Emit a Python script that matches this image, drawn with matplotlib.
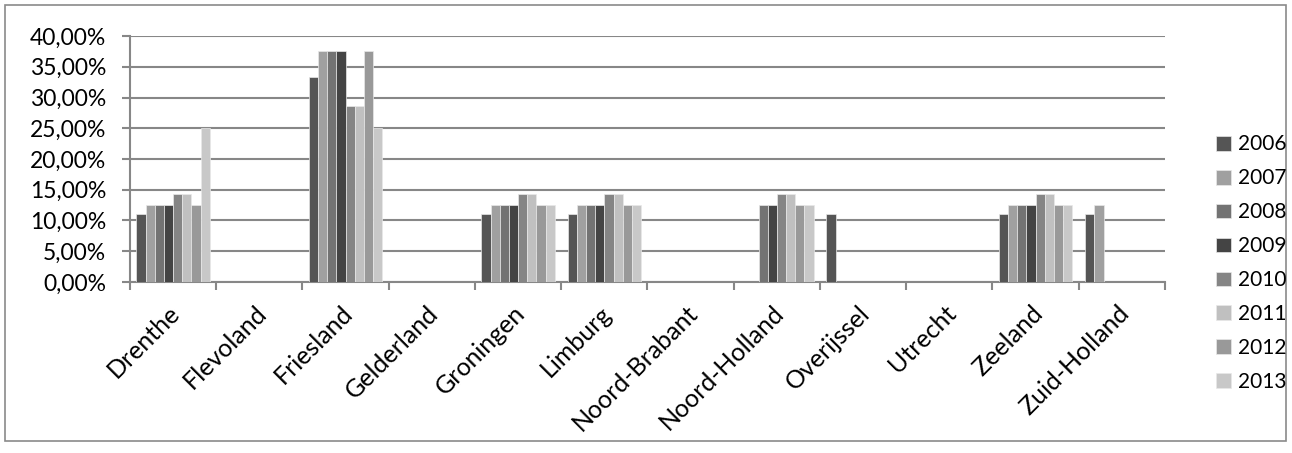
import numpy as np
import matplotlib.pyplot as plt
from matplotlib.patches import Rectangle
from matplotlib.ticker import FuncFormatter
from matplotlib.transforms import ScaledTranslation

provinces = ['Drenthe', 'Flevoland', 'Friesland', 'Gelderland', 'Groningen', 'Limburg',
             'Noord-Brabant', 'Noord-Holland', 'Overijssel', 'Utrecht', 'Zeeland', 'Zuid-Holland']
years = ['2006', '2007', '2008', '2009', '2010', '2011', '2012', '2013']

# percentages per year, one value per province
v2006 = [11.11, 0, 33.33, 0, 11.11, 11.11, 0, 0, 11.11, 0, 11.11, 11.11]
v2007 = [12.5, 0, 37.5, 0, 12.5, 12.5, 0, 0, 0, 0, 12.5, 12.5]
v2008 = [12.5, 0, 37.5, 0, 12.5, 12.5, 0, 12.5, 0, 0, 12.5, 0]
v2009 = [12.5, 0, 37.5, 0, 12.5, 12.5, 0, 12.5, 0, 0, 12.5, 0]
v2010 = [14.29, 0, 28.57, 0, 14.29, 14.29, 0, 14.29, 0, 0, 14.29, 0]
v2011 = [14.29, 0, 28.57, 0, 14.29, 14.29, 0, 14.29, 0, 0, 14.29, 0]
v2012 = [12.5, 0, 37.5, 0, 12.5, 12.5, 0, 12.5, 0, 0, 12.5, 0]
v2013 = [25.0, 0, 25.0, 0, 12.5, 12.5, 0, 12.5, 0, 0, 12.5, 0]
series = [v2006, v2007, v2008, v2009, v2010, v2011, v2012, v2013]

colors = ['#555555', '#a0a0a0', '#737373', '#444444', '#858585', '#c0c0c0', '#999999', '#c8c8c8']

plt.rcParams['font.family'] = ['Lato', 'DejaVu Sans']

fig = plt.figure(figsize=(12.92, 4.53), dpi=100)
ax = fig.add_axes([0.1006, 0.3775, 0.8011, 0.543])

n = len(years)
bw = 0.85 / n
x = np.arange(len(provinces))
for i, (vals, c) in enumerate(zip(series, colors)):
    ax.bar(x - 0.425 + bw * (i + 0.5), vals, bw, color=c, label=years[i],
           edgecolor='#e8e8e8', linewidth=0.5, zorder=3)

grid_c = '#878787'
ax.set_xlim(-0.5, len(provinces) - 0.5)
ax.set_ylim(0, 40)
ax.set_yticks(np.arange(0, 41, 5))
ax.yaxis.set_major_formatter(FuncFormatter(lambda v, p: f'{v:.2f}%'.replace('.', ',')))
ax.grid(axis='y', color=grid_c, linewidth=1.5, zorder=0)
for s in ['top', 'right']:
    ax.spines[s].set_visible(False)
for s in ['left', 'bottom']:
    ax.spines[s].set_color(grid_c)
    ax.spines[s].set_linewidth(1.5)

ax.set_xticks(np.arange(-0.5, len(provinces)), minor=False)
ax.set_xticklabels([])
ax.set_xticks(x, minor=True)
ax.set_xticklabels(provinces, minor=True, rotation=45, ha='right', va='top',
                   rotation_mode='anchor', fontsize=18)
ax.tick_params(axis='x', which='minor', length=0, pad=14)
ax.tick_params(axis='x', which='major', length=6, width=1.5, color=grid_c)
ax.tick_params(axis='y', length=6, width=1.5, color=grid_c, labelsize=16.5, pad=11)
shift = ScaledTranslation(-5 / 100, 0, fig.dpi_scale_trans)
for lbl in ax.get_xticklabels(minor=True):
    lbl.set_transform(lbl.get_transform() + shift)

leg = fig.legend(loc='upper left', bbox_to_anchor=(0.941, 0.7033), frameon=False,
                 fontsize=15, handlelength=0.72, handleheight=0.72,
                 handletextpad=0.34, labelspacing=0.67, borderpad=0, borderaxespad=0)

fig.patches.append(Rectangle((5 / 1292, 12 / 453), 1281 / 1292, 436 / 453,
                             transform=fig.transFigure, fill=False,
                             edgecolor='#8a8a8a', linewidth=1.2))

fig.savefig('out.png', dpi=100)
